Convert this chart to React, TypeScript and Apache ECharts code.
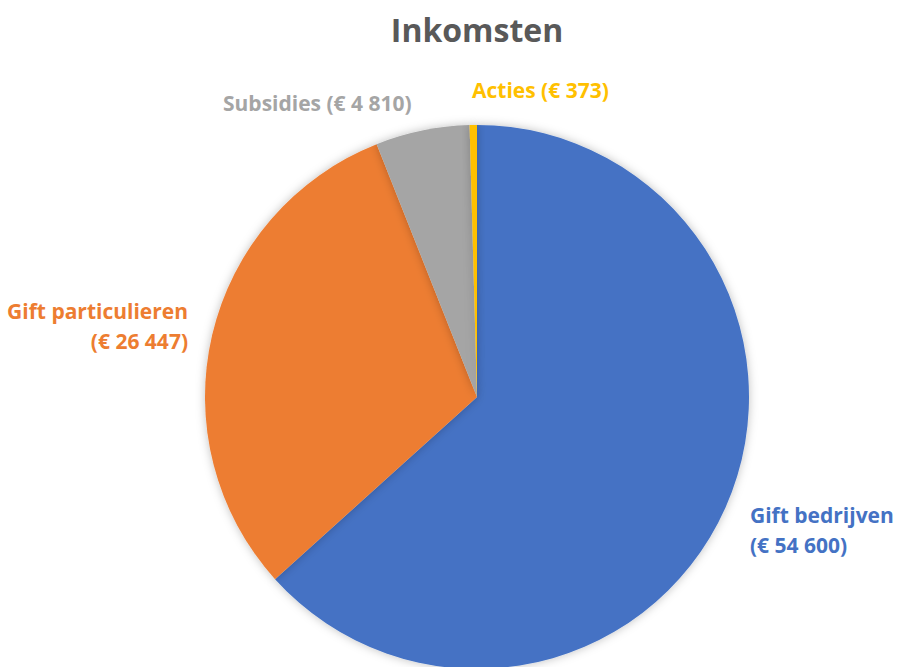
import React, { useEffect, useRef } from "react";
import * as echarts from "echarts";

const title = "Inkomsten";
const categories = ["Gift bedrijven", "Gift particulieren", "Subsidies", "Acties"];
const values = [54600, 26447, 4810, 373];
const colors = ["#4472C4", "#ED7D31", "#A5A5A5", "#FFC000"];
const twoLine = [true, true, false, false];

function euro(v: number): string {
  const s = String(v).replace(/\B(?=(\d{3})+(?!\d))/g, " ");
  return "€ " + s;
}

const labelSpots = [
  { x: 750, y: 530, align: "left" },
  { x: 188, y: 326, align: "right" },
  { x: 223, y: 103, align: "left" },
  { x: 472, y: 90, align: "left" },
];

export default function App() {
  const ref = useRef<HTMLDivElement>(null);
  useEffect(() => {
    if (!ref.current) return;
    const chart = echarts.init(ref.current, null, { renderer: "svg" });
    chart.setOption({
      animation: false,
      backgroundColor: "#ffffff",
      graphic: [
        {
          type: "text",
          x: 477,
          y: 29,
          style: {
            text: title,
            fontFamily: "Open Sans",
            fontWeight: "bold",
            fontSize: 32,
            fill: "#595959",
            textAlign: "center",
            textVerticalAlign: "middle",
          },
        },
      ],
      series: [
        {
          type: "pie",
          center: [477, 397],
          radius: [0, 272],
          startAngle: 90,
          clockwise: true,
          avoidLabelOverlap: false,
          itemStyle: { shadowBlur: 10, shadowColor: "rgba(0,0,0,0.25)" },
          label: {
            show: true,
            position: "outside",
            fontFamily: "Open Sans",
            fontWeight: "bold",
            fontSize: 21,
            lineHeight: 30,
            formatter: (p: any) =>
              twoLine[p.dataIndex] ? `${p.name}\n(${euro(p.value)})` : `${p.name} (${euro(p.value)})`,
          },
          labelLine: { show: false },
          labelLayout: (p: any) => {
            const s = labelSpots[p.dataIndex];
            return { x: s.x, y: s.y, align: s.align, verticalAlign: "middle" };
          },
          data: categories.map((c, i) => ({
            name: c,
            value: values[i],
            itemStyle: { color: colors[i] },
            label: { color: colors[i], align: labelSpots[i].align },
          })),
        },
      ],
    });
    return () => chart.dispose();
  }, []);
  return (
    <div
      ref={ref}
      style={{ position: "absolute", left: 0, top: 0, width: 897, height: 667 }}
    />
  );
}
